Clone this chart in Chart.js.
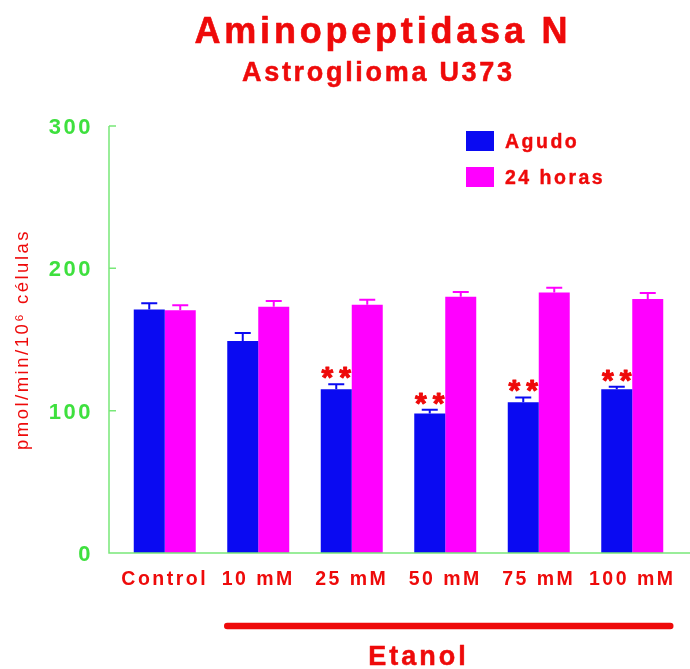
<!DOCTYPE html>
<html>
<head>
<meta charset="utf-8">
<title>Aminopeptidasa N</title>
<script src="https://cdn.jsdelivr.net/npm/chart.js@4.4.1/dist/chart.umd.min.js"></script>
<style>
  html, body { margin: 0; padding: 0; background: #fff; }
  canvas { display: block; }
</style>
</head>
<body>
<canvas id="apnChart" width="690" height="669"></canvas>
<script>
// Actividad aminopeptidasa N en astroglioma U373 tras exposición a etanol
const categorias = ['Control', '10 mM', '25 mM', '50 mM', '75 mM', '100 mM'];
const agudo = [171, 149, 115, 98, 106, 115];
const agudoError = [4.5, 5.5, 3.5, 2.6, 3.3, 1.8];
const horas24 = [170.5, 173, 174.5, 180, 183, 178.5];
const horas24Error = [3.5, 4, 3.4, 3.3, 3.3, 4.2];
const significancia = ['', '', '**', '**', '**', '**'];
const ticksY = [0, 100, 200, 300];

const ROJO = '#ee0a0a';
const VERDE = '#3ee03e';
const EJE = '#78e878';
const AZUL = '#0a0af2';
const MAGENTA = '#ff00ff';
const FUENTE = '"Liberation Sans", Arial, Helvetica, sans-serif';

function escribir(ctx, str, x, y, size, weight, spacing, color, align, grosor) {
  ctx.save();
  ctx.font = weight + ' ' + size + 'px ' + FUENTE;
  ctx.letterSpacing = spacing + 'px';
  ctx.fillStyle = color;
  ctx.textAlign = align || 'left';
  ctx.textBaseline = 'alphabetic';
  const px = align === 'center' ? x + spacing / 2 : x;
  ctx.fillText(str, px, y);
  if (grosor) {
    ctx.strokeStyle = color;
    ctx.lineWidth = grosor;
    ctx.lineJoin = 'round';
    ctx.strokeText(str, px, y);
  }
  ctx.restore();
}

// espaciado de letras para los textos que dibuja Chart.js
const espaciado = {
  id: 'espaciado',
  beforeDraw(chart) {
    chart.ctx.letterSpacing = '2.5px';
  }
};

// barras de error (solo la mitad superior) y asteriscos
const errores = {
  id: 'errores',
  afterDatasetsDraw(chart) {
    const ctx = chart.ctx;
    const y = chart.scales.y;
    const listas = [agudoError, horas24Error];
    chart.data.datasets.forEach((ds, d) => {
      const meta = chart.getDatasetMeta(d);
      meta.data.forEach((bar, i) => {
        const tope = y.getPixelForValue(ds.data[i] + listas[d][i]);
        ctx.save();
        ctx.strokeStyle = ds.backgroundColor;
        ctx.lineWidth = 2;
        ctx.beginPath();
        ctx.moveTo(bar.x, bar.y);
        ctx.lineTo(bar.x, tope);
        ctx.moveTo(bar.x - 8, tope);
        ctx.lineTo(bar.x + 8, tope);
        ctx.stroke();
        ctx.restore();
        if (d === 0 && significancia[i]) {
          escribir(ctx, significancia[i], bar.x, tope + 3, 30, 'bold', 6, ROJO, 'center', 1);
        }
      });
    });
  }
};

// ejes verdes: el eje x sigue hasta el borde derecho
const ejes = {
  id: 'ejes',
  afterDatasetsDraw(chart) {
    const ctx = chart.ctx;
    const y = chart.scales.y;
    const area = chart.chartArea;
    const x0 = 109;
    ctx.save();
    ctx.strokeStyle = EJE;
    ctx.lineWidth = 1.5;
    ctx.beginPath();
    ctx.moveTo(x0, y.getPixelForValue(300));
    ctx.lineTo(x0, area.bottom);
    ctx.lineTo(chart.width, area.bottom);
    ticksY.slice(1).forEach(v => {
      const py = y.getPixelForValue(v);
      ctx.moveTo(x0, py);
      ctx.lineTo(x0 + 7, py);
    });
    ctx.stroke();
    ctx.restore();
  }
};

// títulos, leyenda y la barra de "Etanol"
const extras = {
  id: 'extras',
  afterDraw(chart) {
    const ctx = chart.ctx;
    escribir(ctx, 'Aminopeptidasa N', 381, 43, 36, 'bold', 3.8, ROJO, 'center', 0.6);
    escribir(ctx, 'Astroglioma U373', 377, 81, 27, 'bold', 2.7, ROJO, 'center', 0.5);

    chart.data.datasets.forEach((ds, d) => {
      const top = 131 + d * 36;
      ctx.fillStyle = ds.backgroundColor;
      ctx.fillRect(466, top, 28, 20);
      escribir(ctx, ds.label, 505, top + 17, 19.5, 'bold', 2.5, ROJO, 'left', 0.4);
    });

    const meta = chart.getDatasetMeta(0);
    const meta2 = chart.getDatasetMeta(1);
    const ini = meta.data[1].x - meta.data[1].width / 2;
    const fin = meta2.data[5].x + meta2.data[5].width / 2 + 7;
    ctx.save();
    ctx.strokeStyle = ROJO;
    ctx.lineWidth = 6.5;
    ctx.lineCap = 'round';
    ctx.beginPath();
    ctx.moveTo(ini, 626);
    ctx.lineTo(fin, 626);
    ctx.stroke();
    ctx.restore();
    escribir(ctx, 'Etanol', 417, 665, 27, 'bold', 3, ROJO, 'center', 0.5);
  }
};

new Chart(document.getElementById('apnChart'), {
  type: 'bar',
  data: {
    labels: categorias,
    datasets: [
      { label: 'Agudo', data: agudo, backgroundColor: AZUL, borderWidth: 0,
        categoryPercentage: 0.663, barPercentage: 1 },
      { label: '24 horas', data: horas24, backgroundColor: MAGENTA, borderWidth: 0,
        categoryPercentage: 0.663, barPercentage: 1 }
    ]
  },
  options: {
    responsive: false,
    devicePixelRatio: 1,
    animation: false,
    layout: { padding: { top: 126, right: 11, left: 0, bottom: 0 } },
    plugins: {
      legend: { display: false },
      tooltip: { enabled: false }
    },
    scales: {
      x: {
        grid: { display: false, drawTicks: false },
        border: { display: false },
        ticks: {
          color: ROJO, padding: 15, maxRotation: 0, autoSkip: false,
          font: { family: FUENTE, size: 19.5, weight: 'bold' }
        },
        afterFit(s) { s.height = 116; }
      },
      y: {
        min: 0,
        max: 300,
        afterBuildTicks(s) { s.ticks = ticksY.map(v => ({ value: v })); },
        grid: { display: false, drawTicks: false },
        border: { display: false },
        ticks: {
          color: VERDE, padding: 25, labelOffset: 2,
          font: { family: FUENTE, size: 22, weight: 'bold' }
        },
        title: {
          display: true,
          text: 'pmol/min/10⁶ células',
          color: ROJO,
          padding: { top: 11.5, bottom: 0 },
          font: { family: FUENTE, size: 18.5, weight: 'normal' }
        },
        afterFit(s) { s.width = 118; }
      }
    }
  },
  plugins: [espaciado, errores, ejes, extras]
});
</script>
</body>
</html>
